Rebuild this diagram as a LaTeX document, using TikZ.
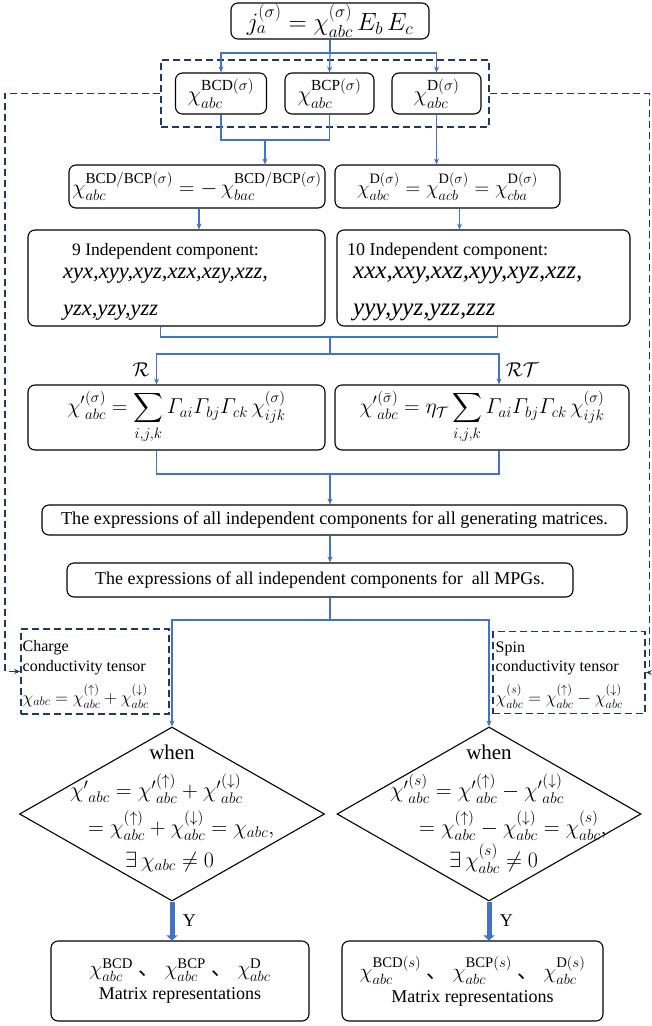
\RequirePackage{fix-cm}
\documentclass[tikz,border=0pt]{standalone}
\usepackage{amsmath}
\usepackage{fontspec}
\setmainfont{Liberation Serif}
\newfontfamily\cjk{Noto Sans CJK SC}
\usetikzlibrary{arrows.meta,shapes.geometric}
\definecolor{linkblue}{HTML}{4472C4}
\definecolor{navyblue}{HTML}{1F3864}
\tikzset{flow_box/.style={draw=black, line width=1.1pt, rounded corners=7pt, inner sep=0pt}}
\tikzset{group_box/.style={draw=navyblue, line width=1.6pt, dash pattern=on 7pt off 4pt}}
\tikzset{edge_link/.style={draw=linkblue, line width=1.2pt}}
\tikzset{edge_arrow/.style={edge_link, -{Stealth[length=6pt,width=5pt]}}}
\tikzset{edge_dash/.style={group_box, -{Stealth[length=6pt,width=5pt]}}}
\tikzset{edge_yes/.style={draw=linkblue, line width=5pt, -{Triangle[length=5pt,width=11pt]}}}
\tikzset{decision/.style={diamond, draw=black, line width=1.1pt, inner sep=0pt}}
\tikzset{row_text/.style={anchor=base west, inner sep=0pt}}
\tikzset{list_text/.style={row_text, font=\fontsize{22.5}{24}\selectfont\itshape}}
\tikzset{note_text/.style={row_text, font=\fontsize{16}{19}\selectfont}}
\tikzset{eq_text/.style={row_text, font=\fontsize{22}{26}\selectfont}}

\begin{document}
\begin{tikzpicture}[x=1pt,y=-1pt,font=\fontsize{18}{21}\selectfont]
  \useasboundingbox (0,0) rectangle (652,1026);
  % current and the three parts of the tensor
  \node[flow_box,minimum width=198pt,minimum height=36pt] (source) at (330,21)
    {\fontsize{25}{28}\selectfont $j_a^{(\sigma)}=\chi_{abc}^{(\sigma)}\,E_b\,E_c$};
  \node[group_box,minimum width=328pt,minimum height=67pt] (group) at (325,93.5) {};
  \node[flow_box,minimum width=91pt,minimum height=41pt] (bcd) at (221,93.5)
    {\fontsize{22}{24}\selectfont $\chi_{abc}^{\mathrm{BCD}(\sigma)}$};
  \node[flow_box,minimum width=89pt,minimum height=41pt] (bcp) at (329.5,93.5)
    {\fontsize{22}{24}\selectfont $\chi_{abc}^{\mathrm{BCP}(\sigma)}$};
  \node[flow_box,minimum width=89pt,minimum height=41pt] (dd) at (436.5,93.5)
    {\fontsize{22}{24}\selectfont $\chi_{abc}^{\mathrm{D}(\sigma)}$};
  \coordinate (split_top) at (330,53);
  \draw[edge_link] (source.south) -- (split_top);
  \draw[edge_arrow] (split_top) -| (bcd.north);
  \draw[edge_arrow] (split_top) -- (bcp.north);
  \draw[edge_arrow] (split_top) -| (dd.north);

  % symmetry of the indices
  \node[flow_box,minimum width=256pt,minimum height=43pt] (anti) at (197,186.5)
    {\fontsize{21.5}{24}\selectfont $\chi_{abc}^{\mathrm{BCD/BCP}(\sigma)}=-\,\chi_{bac}^{\mathrm{BCD/BCP}(\sigma)}$};
  \node[flow_box,minimum width=225pt,minimum height=43pt] (symm) at (447.5,186.5)
    {\fontsize{20.5}{24}\selectfont $\chi_{abc}^{\mathrm{D}(\sigma)}=\chi_{acb}^{\mathrm{D}(\sigma)}=\chi_{cba}^{\mathrm{D}(\sigma)}$};
  \coordinate (join_bc) at (265,140);
  \draw[edge_link] (bcd.south) |- (join_bc) -| (bcp.south);
  \draw[edge_arrow] (join_bc) -- (join_bc |- anti.north);
  \draw[edge_arrow] (dd.south) -- (dd.south |- symm.north);

  % independent components
  \node[flow_box,minimum width=297pt,minimum height=96pt] (nine) at (176.5,278) {};
  \node[row_text,font=\fontsize{17.5}{21}\selectfont] (nine_head) at (72,255) {9 Independent component:};
  \node[list_text] (nine_row1) at (63,278) {xyx,xyy,xyz,xzx,xzy,xzz,};
  \node[list_text] (nine_row2) at (63,315) {yzx,yzy,yzz};
  \node[flow_box,minimum width=293pt,minimum height=96pt] (ten) at (483.5,278) {};
  \node[row_text] (ten_head) at (347,255) {10 Independent component:};
  \node[list_text,font=\fontsize{25}{26}\selectfont\itshape] (ten_row1) at (353,278) {xxx,xxy,xxz,xyy,xyz,xzz,};
  \node[list_text,font=\fontsize{25}{26}\selectfont\itshape] (ten_row2) at (353,315) {yyy,yyz,yzz,zzz};
  \draw[edge_arrow] ([xshift=2pt]anti.south) -- ([xshift=2pt]anti.south |- nine.north);
  \draw[edge_arrow] ([xshift=12pt]symm.south) -- ([xshift=12pt]symm.south |- ten.north);

  % transformation under the generators
  \node[flow_box,minimum width=297pt,minimum height=65pt] (rot) at (176.5,417.5)
    {\fontsize{21.5}{24}\selectfont $\displaystyle {\chi'}^{(\sigma)}_{abc}=\sum_{i,j,k}\varGamma_{ai}\varGamma_{bj}\varGamma_{ck}\,\chi^{(\sigma)}_{ijk}$};
  \node[flow_box,minimum width=294pt,minimum height=65pt] (rott) at (482,417.5)
    {\fontsize{21.5}{24}\selectfont $\displaystyle {\chi'}^{(\bar\sigma)}_{abc}=\eta_{\mathcal{T}}\sum_{i,j,k}\varGamma_{ai}\varGamma_{bj}\varGamma_{ck}\,\chi^{(\sigma)}_{ijk}$};
  \coordinate (join_comp) at (330,337);
  \coordinate (split_sym) at (330,354);
  \draw[edge_link] ([xshift=-16pt]nine.south) |- (join_comp) -| ([xshift=14pt]ten.south);
  \draw[edge_link] (join_comp) -- (split_sym);
  \draw[edge_arrow] (split_sym) -| node[pos=0.75,left=3pt,font=\fontsize{20}{22}\selectfont]{$\mathcal{R}$} ([xshift=-20pt]rot.north);
  \draw[edge_arrow] (split_sym) -| node[pos=0.75,right=3pt,font=\fontsize{20}{22}\selectfont]{$\mathcal{R}\mathcal{T}$} ([xshift=17pt]rott.north);

  % expressions
  \node[flow_box,minimum width=585pt,minimum height=30pt,font=\fontsize{18.2}{21}\selectfont] (genmat) at (334.5,520)
    {The expressions of all independent components for all generating matrices.};
  \node[flow_box,minimum width=506pt,minimum height=34pt,font=\fontsize{18}{21}\selectfont] (mpg) at (320,580)
    {The expressions of all independent components for\ \ all MPGs.};
  \coordinate (join_sym) at (330,474);
  \draw[edge_link] ([xshift=-20pt]rot.south) |- (join_sym) -| ([xshift=17pt]rott.south);
  \draw[edge_arrow] (join_sym) -- (join_sym |- genmat.north);
  \draw[edge_arrow] (join_sym |- genmat.south) -- (join_sym |- mpg.north);

  % charge and spin
  \node[group_box,minimum width=148pt,minimum height=85pt] (charge_note) at (95,671.5) {};
  \node[note_text] (charge_t_a) at (22.5,651) {Charge};
  \node[note_text] (charge_t_b) at (22.5,671) {conductivity tensor};
  \node[note_text,font=\fontsize{17.5}{20}\selectfont] (charge_t_c) at (22.5,703)
    {$\chi_{abc}=\chi^{(\uparrow)}_{abc}+\chi^{(\downarrow)}_{abc}$};
  \node[group_box,minimum width=152pt,minimum height=82pt] (spin_note) at (569,672.5) {};
  \node[note_text] (spin_t_a) at (495.5,652) {Spin};
  \node[note_text] (spin_t_b) at (495.5,671) {conductivity tensor};
  \node[note_text,font=\fontsize{17.5}{20}\selectfont] (spin_t_c) at (495.5,703)
    {$\chi^{(s)}_{abc}=\chi^{(\uparrow)}_{abc}-\chi^{(\downarrow)}_{abc}$};
  \coordinate (bend_left) at (5,93.5);
  \coordinate (bend_right) at (649.5,93.5);
  \draw[edge_dash] (group.west) -- (bend_left) |- (charge_note.west);
  \draw[edge_dash] (group.east) -- (bend_right) |- (spin_note.east);

  % conditions
  \node[decision,minimum width=305pt,minimum height=174pt] (charge_when) at (172,814) {};
  \node[decision,minimum width=304pt,minimum height=174pt] (spin_when) at (489,814) {};
  \coordinate (split_mpg) at (330,620);
  \draw[edge_link] (join_sym |- mpg.south) -- (split_mpg);
  \draw[edge_arrow] (split_mpg) -| (charge_when.north);
  \draw[edge_arrow] (split_mpg) -| (spin_when.north);

  \node[anchor=base,font=\fontsize{21}{25}\selectfont] (charge_t0) at (172,759) {when};
  \node[eq_text] (charge_t1) at (70,797) {${\chi'}_{abc}={\chi'}^{(\uparrow)}_{abc}+{\chi'}^{(\downarrow)}_{abc}$};
  \node[eq_text] (charge_t2) at (88,834) {$=\chi^{(\uparrow)}_{abc}+\chi^{(\downarrow)}_{abc}=\chi_{abc},$};
  \node[eq_text] (charge_t3) at (125,867) {$\exists\,\chi_{abc}\neq 0$};
  \node[anchor=base,font=\fontsize{21}{25}\selectfont] (spin_t0) at (489,759) {when};
  \node[eq_text] (spin_t1) at (390,797) {${\chi'}^{(s)}_{abc}={\chi'}^{(\uparrow)}_{abc}-{\chi'}^{(\downarrow)}_{abc}$};
  \node[eq_text] (spin_t2) at (419,834) {$=\chi^{(\uparrow)}_{abc}-\chi^{(\downarrow)}_{abc}=\chi^{(s)}_{abc},$};
  \node[eq_text] (spin_t3) at (449,867) {$\exists\,\chi^{(s)}_{abc}\neq 0$};

  % matrix representations
  \node[flow_box,minimum width=258pt,minimum height=80pt,align=center] (charge_mat) at (180,981)
    {{\fontsize{21}{24}\selectfont $\chi^{\mathrm{BCD}}_{abc}$ {\cjk 、} $\chi^{\mathrm{BCP}}_{abc}$ {\cjk 、} $\chi^{\mathrm{D}}_{abc}$}\\[3pt]Matrix representations};
  \node[flow_box,minimum width=261pt,minimum height=80pt,align=center] (spin_mat) at (472.5,981)
    {{\fontsize{21}{24}\selectfont $\chi^{\mathrm{BCD}(s)}_{abc}$ {\cjk 、} $\chi^{\mathrm{BCP}(s)}_{abc}$ {\cjk 、} $\chi^{\mathrm{D}(s)}_{abc}$}\\[3pt]Matrix representations};
  \draw[edge_yes] (charge_when.south) -- (charge_when.south |- charge_mat.north) node[midway,right=5pt]{Y};
  \draw[edge_yes] (spin_when.south) -- (spin_when.south |- spin_mat.north) node[midway,right=5pt]{Y};
\end{tikzpicture}
\end{document}
